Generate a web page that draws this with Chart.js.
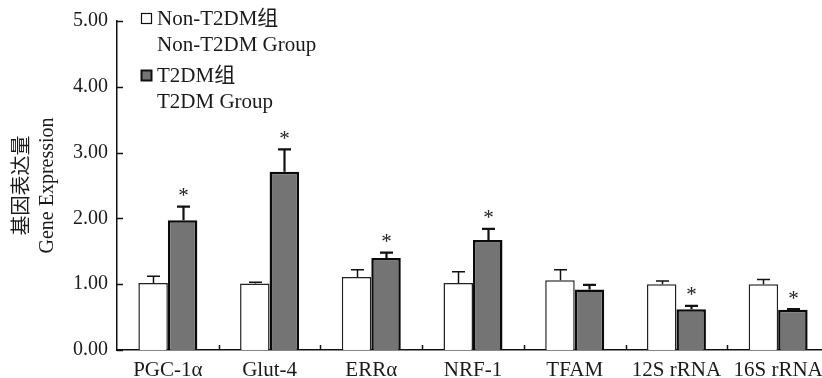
<!DOCTYPE html>
<html lang="zh">
<head>
    <meta charset="UTF-8">
    <title>基因表达量</title>
    <style>
        html, body {
            margin: 0;
            padding: 0;
            background: #ffffff;
            overflow: hidden;
        }
        #wrap {
            width: 840px;
            height: 378px;
        }
    </style>
</head>
<body>
    <div id="wrap">
        <canvas id="geneChart" width="840" height="378"></canvas>
    </div>
    <script src="https://cdn.jsdelivr.net/npm/chart.js"></script>
    <script>
        // Datos
        const genes = ['PGC-1α', 'Glut-4', 'ERRα', 'NRF-1', 'TFAM', '12S rRNA', '16S rRNA'];
        const nonT2dm = [1.02, 1.01, 1.11, 1.02, 1.06, 1.00, 1.00];
        const nonT2dmErr = [0.10, 0.02, 0.11, 0.17, 0.16, 0.05, 0.07];
        const t2dm = [1.97, 2.71, 1.40, 1.67, 0.92, 0.62, 0.61];
        const t2dmErr = [0.21, 0.34, 0.08, 0.17, 0.07, 0.05, 0.01];
        const significant = [true, true, true, true, false, true, true];
        const yTicks = [0, 1, 2, 3, 4, 5];
        const legendText = [['Non-T2DM组', 'Non-T2DM Group'], ['T2DM组', 'T2DM Group']];
        const yTitle = ['基因表达量', 'Gene Expression'];

        const FONT = "'Liberation Serif', 'Noto Sans CJK SC', serif";

        // Ticks hacia dentro, barras de error, asteriscos y leyenda
        const extras = {
            id: 'extras',
            afterDatasetsDraw(chart) {
                const ctx = chart.ctx;
                const x = chart.scales.x;
                const y = chart.scales.y;
                const area = chart.chartArea;
                ctx.save();
                ctx.strokeStyle = '#111';
                ctx.lineWidth = 1.5;

                // ticks del eje y
                yTicks.forEach(v => {
                    const py = Math.round(y.getPixelForValue(v)) + 0.5;
                    ctx.beginPath();
                    ctx.moveTo(area.left, py);
                    ctx.lineTo(area.left + 6, py);
                    ctx.stroke();
                });
                // ticks del eje x entre categorías
                for (let i = 0; i < genes.length - 1; i++) {
                    const px = Math.round((x.getPixelForTick(i) + x.getPixelForTick(i + 1)) / 2) + 0.5;
                    ctx.beginPath();
                    ctx.moveTo(px, area.bottom);
                    ctx.lineTo(px, area.bottom - 5);
                    ctx.stroke();
                }

                // barras de error
                const errs = [nonT2dmErr, t2dmErr];
                const widths = [1.5, 2.2];
                chart.data.datasets.forEach((ds, di) => {
                    const meta = chart.getDatasetMeta(di);
                    meta.data.forEach((bar, i) => {
                        const top = y.getPixelForValue(ds.data[i] + errs[di][i]);
                        const cx = Math.round(bar.x) + 0.5;
                        ctx.lineWidth = widths[di];
                        ctx.beginPath();
                        ctx.moveTo(cx, bar.y);
                        ctx.lineTo(cx, top);
                        ctx.moveTo(cx - 6.5, top);
                        ctx.lineTo(cx + 6.5, top);
                        ctx.stroke();
                        if (di === 1 && significant[i]) {
                            ctx.fillStyle = '#222';
                            ctx.font = '21px ' + FONT;
                            ctx.textAlign = 'center';
                            ctx.textBaseline = 'middle';
                            ctx.fillText('*', cx, top - 10);
                        }
                    });
                });

                // leyenda
                const colors = [chart.data.datasets[0], chart.data.datasets[1]];
                const itemY = [18, 75];
                ctx.font = '21px ' + FONT;
                ctx.textAlign = 'left';
                ctx.textBaseline = 'middle';
                colors.forEach((ds, i) => {
                    ctx.fillStyle = ds.backgroundColor;
                    ctx.fillRect(141, itemY[i] - 5, 11, 11);
                    ctx.lineWidth = i === 0 ? 1.2 : 2;
                    ctx.strokeStyle = '#111';
                    ctx.strokeRect(141.5, itemY[i] - 4.5, 10, 10);
                    ctx.fillStyle = '#1a1a1a';
                    legendText[i].forEach((line, j) => {
                        ctx.fillText(line, 157, itemY[i] + 1 + j * 26);
                    });
                });
                ctx.restore();
            }
        };

        const ctx = document.getElementById('geneChart').getContext('2d');
        const chart = new Chart(ctx, {
            type: 'bar',
            data: {
                labels: genes,
                datasets: [{
                    label: legendText[0].join(' '),
                    data: nonT2dm,
                    backgroundColor: '#ffffff',
                    borderColor: '#222',
                    borderWidth: 1.5,
                    borderSkipped: 'bottom'
                }, {
                    label: legendText[1].join(' '),
                    data: t2dm,
                    backgroundColor: '#747474',
                    borderColor: '#0a0a0a',
                    borderWidth: 2.5,
                    borderSkipped: 'bottom'
                }]
            },
            options: {
                responsive: false,
                animation: false,
                devicePixelRatio: 1,
                layout: {
                    padding: { left: 0, right: 11, top: 18, bottom: 0 }
                },
                datasets: {
                    bar: {
                        categoryPercentage: 0.58,
                        barPercentage: 1
                    }
                },
                plugins: {
                    legend: { display: false },
                    tooltip: { enabled: false }
                },
                scales: {
                    x: {
                        grid: { display: false, drawTicks: false },
                        border: { color: '#111', width: 1.5 },
                        ticks: {
                            color: '#1a1a1a',
                            font: { family: FONT, size: 21 },
                            padding: 8,
                            maxRotation: 0,
                            autoSkip: false
                        },
                        afterFit(scale) { scale.height = 28; }
                    },
                    y: {
                        min: 0,
                        max: 5,
                        grid: { display: false, drawTicks: false },
                        border: { color: '#111', width: 1.5 },
                        afterBuildTicks(scale) {
                            scale.ticks = yTicks.map(v => ({ value: v }));
                        },
                        ticks: {
                            color: '#1a1a1a',
                            font: { family: FONT, size: 20 },
                            padding: 9,
                            callback: v => v.toFixed(2)
                        },
                        title: {
                            display: true,
                            text: yTitle,
                            color: '#1a1a1a',
                            font: { family: FONT, size: 20, lineHeight: 1.25 },
                            padding: { top: 10, bottom: 0 }
                        },
                        afterFit(scale) { scale.width = 117; }
                    }
                }
            },
            plugins: [extras]
        });
    </script>
</body>
</html>
